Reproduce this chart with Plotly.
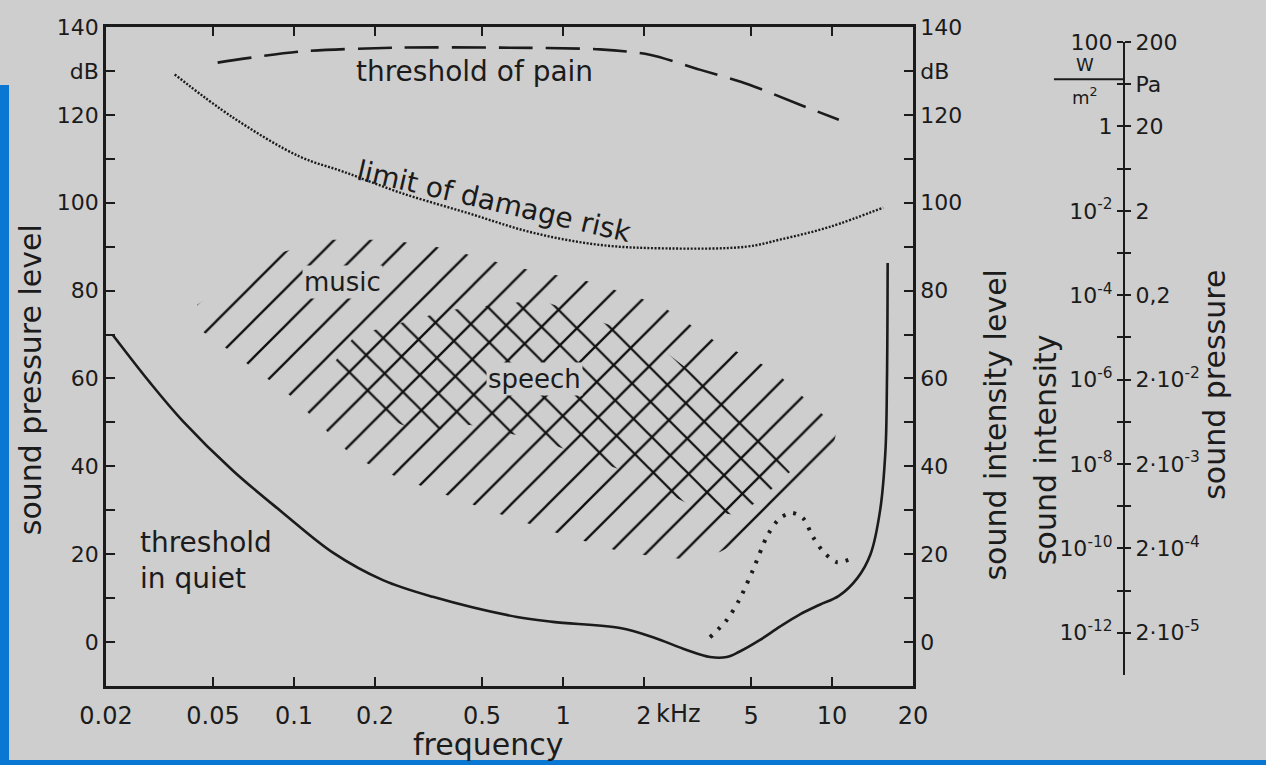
import math
import plotly.graph_objects as go

# ---------------- data ----------------
# threshold in quiet (frequency in kHz, level in dB)
quiet_f = [0.0212, 0.0292, 0.0386, 0.0593, 0.091, 0.140, 0.214, 0.328, 0.674, 0.916,
           1.63, 2.16, 2.88, 3.52, 4.06, 4.52, 5.4, 6.4, 7.6, 9.0, 10.6, 12.4, 13.9, 15.1, 15.8, 16.0, 16.1]
quiet_L = [69.9, 59.0, 50.3, 39.0, 29.4, 20.3, 14.1, 10.3, 5.7, 4.6,
           3.2, 1.1, -1.8, -3.4, -3.4, -2.2, 0.5, 3.5, 6.3, 8.5, 10.5, 14.5, 20.0, 30.1, 43.7, 59.0, 86.3]

# threshold of pain
pain_f = [0.052, 0.105, 0.248, 0.584, 1.37, 2.1, 3.22, 4.9, 7.6, 10.6]
pain_L = [131.9, 134.4, 135.3, 135.3, 134.9, 133.7, 130.3, 126.9, 122.3, 118.9]

# limit of damage risk
damage_f = [0.036, 0.0593, 0.105, 0.152, 0.248, 0.44, 0.77, 1.37, 2.44, 4.8, 6.4, 9.8, 15.5]
damage_L = [129.2, 119.4, 110.5, 107.1, 102.3, 97.7, 93.2, 90.4, 89.6, 90.0, 91.6, 94.5, 98.9]

# dotted curve near 4-11 kHz
dots_f = [3.52, 4.06, 4.52, 5.08, 5.77, 6.4, 7.1, 7.8, 8.5, 9.3, 10.4, 11.5]
dots_L = [1.1, 5.0, 9.6, 16.4, 24.4, 28.2, 29.4, 28.2, 23.9, 20.5, 18.2, 18.7]

# music area outline (single hatching)
music_f = [0.0436, 0.076, 0.0887, 0.1326, 0.224, 0.358, 0.663, 1.26, 2.29, 3.61, 6.03, 10.5,
           9.42, 7.16, 3.83, 2.77, 1.70, 0.918, 0.522, 0.241, 0.166, 0.0983, 0.0531, 0.0447]
music_L = [76.8, 86.6, 88.6, 91.6, 91.6, 89.7, 85.4, 82.0, 76.8, 68.8, 62.0, 48.7,
           38.0, 29.6, 20.5, 18.9, 20.3, 25.1, 30.1, 37.6, 42.1, 55.8, 67.9, 71.1]

# speech area outline (cross hatching)
speech_f = [0.136, 0.169, 0.380, 0.821, 2.11, 3.83, 6.98, 5.40, 4.36, 3.23, 1.63, 0.821, 0.451, 0.294, 0.184]
speech_L = [62.4, 69.9, 75.6, 77.9, 68.8, 56.3, 38.7, 32.3, 28.9, 30.1, 39.2, 46.0, 49.4, 47.8, 52.8]

# axes
freq_ticks = [0.02, 0.05, 0.1, 0.2, 0.5, 1, 2, 5, 10, 20]
freq_labels = ["0.02", "0.05", "0.1", "0.2", "0.5", "1", "2", "5", "10", "20"]
level_ticks = list(range(0, 141, 10))
level_labels = ["0", "", "20", "", "40", "", "60", "", "80", "", "100", "", "120", "dB", "140"]
intensity_labels = ["10<sup>-12</sup>", "", "10<sup>-10</sup>", "", "10<sup>-8</sup>", "",
                    "10<sup>-6</sup>", "", "10<sup>-4</sup>", "", "10<sup>-2</sup>", "",
                    "1", "", "100"]
pressure_labels = ["2·10<sup>-5</sup>", "", "2·10<sup>-4</sup>", "", "2·10<sup>-3</sup>", "",
                   "2·10<sup>-2</sup>", "", "0,2", "", "2", "", "20", "Pa", "200"]

# ---------------- style ----------------
INK = "#1b1b1b"
HATCH = "#111111"
BG = "#cecece"
FONT = "DejaVu Sans"

fig = go.Figure()

fig.add_trace(go.Scatter(
    x=music_f + music_f[:1], y=music_L + music_L[:1], mode="lines", fill="toself",
    fillcolor="rgba(0,0,0,0)", line=dict(width=0, color="rgba(0,0,0,0)"),
    fillpattern=dict(shape="/", size=26, solidity=0.09, fgcolor=HATCH, fgopacity=1,
                     bgcolor="rgba(0,0,0,0)", fillmode="overlay"),
    hoverinfo="skip", showlegend=False))

fig.add_trace(go.Scatter(
    x=speech_f + speech_f[:1], y=speech_L + speech_L[:1], mode="lines", fill="toself",
    fillcolor="rgba(0,0,0,0)", line=dict(width=0, color="rgba(0,0,0,0)"),
    fillpattern=dict(shape="\\", size=24, solidity=0.095, fgcolor=HATCH, fgopacity=1,
                     bgcolor="rgba(0,0,0,0)", fillmode="overlay"),
    hoverinfo="skip", showlegend=False))

fig.add_trace(go.Scatter(x=quiet_f, y=quiet_L, mode="lines",
                         line=dict(color=INK, width=2.6, shape="spline", smoothing=1.0),
                         showlegend=False, hoverinfo="skip"))
fig.add_trace(go.Scatter(x=pain_f, y=pain_L, mode="lines",
                         line=dict(color=INK, width=2.6, dash="34px,13px", shape="spline", smoothing=0.8),
                         showlegend=False, hoverinfo="skip"))
fig.add_trace(go.Scatter(x=damage_f, y=damage_L, mode="lines",
                         line=dict(color=INK, width=2.4, dash="2px,1.6px", shape="spline", smoothing=1.0),
                         showlegend=False, hoverinfo="skip"))
fig.add_trace(go.Scatter(x=dots_f, y=dots_L, mode="lines",
                         line=dict(color=INK, width=4, dash="3px,8px", shape="spline", smoothing=0.8),
                         showlegend=False, hoverinfo="skip"))

# invisible carriers for the right-hand axes
for ax in ("y2", "y3", "y4"):
    fig.add_trace(go.Scatter(x=[1], y=[0], yaxis=ax, mode="markers", marker=dict(opacity=0),
                             showlegend=False, hoverinfo="skip"))

XDOM = 0.6957
SCALE_POS = 0.8776

tick_font = dict(family=FONT, size=22, color=INK)
axis_common = dict(showgrid=False, zeroline=False, showline=True, linecolor=INK, tickcolor=INK,
                   automargin=False)

fig.update_layout(
    width=1266, height=765,
    margin=dict(l=106, r=0, t=27, b=79),
    paper_bgcolor=BG, plot_bgcolor="rgba(0,0,0,0)",
    font=dict(family=FONT, color=INK),
    xaxis=dict(type="log", range=[math.log10(0.02), math.log10(20)], domain=[0, XDOM],
               tickvals=freq_ticks, ticktext=freq_labels, ticks="inside", ticklen=9,
               tickwidth=2, linewidth=2.6, mirror="ticks", ticklabelstandoff=6,
               tickfont=dict(family=FONT, size=24, color=INK), **axis_common),
    yaxis=dict(range=[-10, 140], tickvals=level_ticks, ticktext=level_labels,
               ticks="inside", ticklen=9, tickwidth=2, linewidth=2.6, tickfont=tick_font,
               **axis_common),
    yaxis2=dict(range=[-10, 140], overlaying="y", side="right", anchor="x",
                tickvals=level_ticks, ticktext=level_labels, tickfont=tick_font,
                ticks="inside", ticklen=9, tickwidth=2, linewidth=2.6, **axis_common),
    yaxis3=dict(range=[-10, 140], domain=[0.0167, 0.9772], anchor="free", position=SCALE_POS,
                side="left", tickvals=level_ticks, ticktext=intensity_labels, tickfont=tick_font,
                ticks="outside", ticklen=6, tickwidth=2, linewidth=2.2, **axis_common),
    yaxis4=dict(range=[-10, 140], overlaying="y3", anchor="free", position=SCALE_POS,
                side="right", tickvals=level_ticks, ticktext=pressure_labels, tickfont=tick_font,
                ticks="outside", ticklen=6, tickwidth=2, linewidth=2.2, **axis_common),
)

def txt(text, x, y, size=28, angle=0, xref="x", yref="y", xanchor="center", yanchor="middle",
        bg=None, align="center", xshift=0, yshift=0):
    fig.add_annotation(text=text, x=x, y=y, xref=xref, yref=yref, showarrow=False,
                       textangle=angle, xanchor=xanchor, yanchor=yanchor, align=align,
                       font=dict(family=FONT, size=size, color=INK), xshift=xshift, yshift=yshift,
                       bgcolor=bg, borderpad=1)

lg = math.log10
txt("threshold of pain", lg(0.47), 129.8)
txt("limit of damage risk", lg(0.556), 100.2, angle=13)
txt("music", lg(0.152), 82.0, size=26, bg=BG)
txt("speech", lg(0.78), 59.9, size=26, bg=BG)
txt("threshold<br>in quiet", lg(0.0263), 18.5, xanchor="left", align="left")
txt("kHz", lg(2), -0.0364, size=24, xref="x", yref="paper", xanchor="left", xshift=10, yshift=-4)

# axis titles
txt("frequency", 0.329, -0.0895, size=30, xref="paper", yref="paper")
txt("sound pressure level", -0.0655, 0.464, size=30, angle=-90, xref="paper", yref="paper")
txt("sound intensity level", 0.766, 0.396, size=30, angle=-90, xref="paper", yref="paper")
txt("sound intensity", 0.8095, 0.358, size=30, angle=-90, xref="paper", yref="paper")
txt("sound pressure", 0.956, 0.457, size=30, angle=-90, xref="paper", yref="paper")

# W / m^2 unit of the intensity scale
txt("W", 0.8440, 134.6, size=18, xref="paper", yref="y3")
txt("m<sup>2</sup>", 0.8440, 127.2, size=18, xref="paper", yref="y3")
fig.add_shape(type="line", xref="paper", yref="y3", x0=0.8172, x1=SCALE_POS, y0=131.2, y1=131.2,
              line=dict(color=INK, width=2))

# photo border (blue strips)
BLUE = "#0a78d2"
fig.add_shape(type="rect", xref="paper", yref="paper", x0=-0.0914, x1=-0.0836, y0=-0.1199, y1=0.912,
              fillcolor=BLUE, line=dict(width=0), layer="above")
fig.add_shape(type="rect", xref="paper", yref="paper", x0=-0.0914, x1=1.0, y0=-0.1199, y1=-0.1123,
              fillcolor=BLUE, line=dict(width=0), layer="above")

fig.write_html("out.html", config={"displayModeBar": False},
               post_script="document.body.style.margin='0';document.body.style.background='%s';" % BG)
